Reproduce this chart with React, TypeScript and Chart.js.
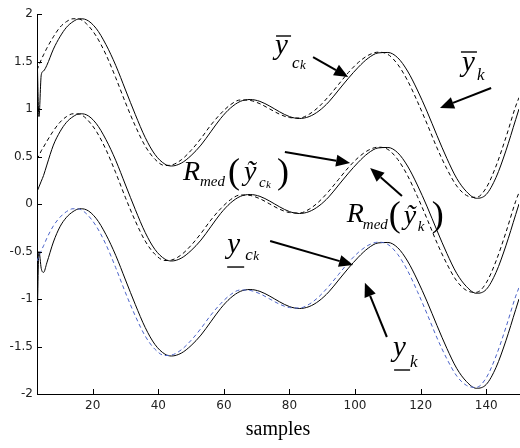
import React, { useEffect, useRef } from 'react';
import { Chart, registerables } from 'chart.js';

Chart.register(...registerables);

// sample positions (x axis: samples)
const xs = [3, 3.6, 4.3, 5, 6, 8, 10, 12, 14, 16, 18, 21, 24, 27, 30, 33, 36, 39, 42, 44, 47, 50, 53, 56, 59, 62, 65, 68, 71, 74, 77, 80, 83, 86, 89, 92, 95, 98, 101, 104, 107, 110, 113, 116, 119, 122, 125, 128, 131, 134, 137, 140, 143, 146, 149, 150];

// upper pair
const topSolid = [1.62, 0.92, 1.36, 1.40, 1.46, 1.63, 1.76, 1.86, 1.92, 1.95, 1.94, 1.85, 1.68, 1.46, 1.20, 0.94, 0.70, 0.52, 0.42, 0.40, 0.43, 0.51, 0.62, 0.76, 0.90, 1.01, 1.08, 1.10, 1.08, 1.03, 0.97, 0.92, 0.90, 0.92, 0.98, 1.075, 1.20, 1.325, 1.44, 1.535, 1.59, 1.595, 1.54, 1.40, 1.20, 0.97, 0.72, 0.48, 0.27, 0.13, 0.06, 0.10, 0.28, 0.56, 0.89, 1.00];
const topDashed = [1.41, 1.46, 1.52, 1.57, 1.64, 1.76, 1.86, 1.92, 1.95, 1.945, 1.90, 1.77, 1.575, 1.33, 1.065, 0.82, 0.61, 0.47, 0.405, 0.41, 0.465, 0.565, 0.69, 0.83, 0.95, 1.045, 1.095, 1.09, 1.055, 1.0, 0.945, 0.91, 0.905, 0.945, 1.025, 1.135, 1.26, 1.385, 1.49, 1.565, 1.598, 1.575, 1.47, 1.30, 1.08, 0.84, 0.59, 0.37, 0.19, 0.09, 0.07, 0.17, 0.40, 0.70, 1.03, 1.12];

// middle pair
const midSolid = [0.13, 0.18, 0.24, 0.30, 0.41, 0.62, 0.76, 0.86, 0.92, 0.95, 0.94, 0.85, 0.68, 0.46, 0.20, -0.06, -0.30, -0.48, -0.58, -0.60, -0.57, -0.49, -0.38, -0.24, -0.10, 0.01, 0.08, 0.10, 0.08, 0.03, -0.03, -0.08, -0.10, -0.08, -0.02, 0.075, 0.20, 0.325, 0.44, 0.535, 0.59, 0.595, 0.54, 0.40, 0.20, -0.03, -0.28, -0.52, -0.73, -0.87, -0.94, -0.90, -0.72, -0.44, -0.11, 0.0];
const midDashed = [0.47, 0.51, 0.56, 0.60, 0.66, 0.77, 0.86, 0.92, 0.95, 0.945, 0.90, 0.77, 0.575, 0.33, 0.065, -0.18, -0.39, -0.53, -0.595, -0.59, -0.535, -0.435, -0.31, -0.17, -0.05, 0.045, 0.095, 0.09, 0.055, 0.0, -0.055, -0.09, -0.095, -0.055, 0.025, 0.135, 0.26, 0.385, 0.49, 0.565, 0.598, 0.575, 0.47, 0.30, 0.08, -0.16, -0.41, -0.63, -0.81, -0.91, -0.93, -0.83, -0.60, -0.30, 0.03, 0.12];

// lower pair
const lowSolid = [-1.35, -0.50, -0.68, -0.72, -0.62, -0.40, -0.24, -0.14, -0.08, -0.05, -0.06, -0.15, -0.32, -0.54, -0.80, -1.06, -1.30, -1.48, -1.58, -1.60, -1.57, -1.49, -1.38, -1.24, -1.10, -0.99, -0.92, -0.90, -0.92, -0.97, -1.03, -1.08, -1.10, -1.08, -1.02, -0.925, -0.80, -0.675, -0.56, -0.465, -0.41, -0.405, -0.46, -0.60, -0.80, -1.03, -1.28, -1.52, -1.73, -1.87, -1.94, -1.90, -1.72, -1.44, -1.11, -1.00];
const lowDashed = [-0.60, -0.55, -0.49, -0.44, -0.36, -0.23, -0.14, -0.08, -0.05, -0.055, -0.10, -0.23, -0.425, -0.67, -0.935, -1.18, -1.39, -1.53, -1.595, -1.59, -1.535, -1.435, -1.31, -1.17, -1.05, -0.955, -0.905, -0.91, -0.945, -1.0, -1.055, -1.09, -1.095, -1.055, -0.975, -0.865, -0.74, -0.615, -0.51, -0.435, -0.402, -0.425, -0.53, -0.70, -0.92, -1.16, -1.41, -1.63, -1.81, -1.91, -1.93, -1.83, -1.60, -1.30, -0.97, -0.88];

const xTicks = [20, 40, 60, 80, 100, 120, 140];
const yTicks = [-2, -1.5, -1, -0.5, 0, 0.5, 1, 1.5, 2];
const xTitle = 'samples';

// annotation anchors in data units [x, y]
const labelAnchors = {
  yBarCk: [75.6, 1.579],
  yBarK: [132.6, 1.40],
  rmedCk: [47.5, 0.253],
  rmedK: [97.5, -0.189],
  yUnderCk: [61.0, -0.516],
  yUnderK: [111.6, -1.60],
};
// arrows: [fromX, fromY, toX, toY] in data units
const arrows = [
  [87.2, 1.547, 97.9, 1.337],
  [141.5, 1.221, 125.9, 1.011],
  [78.6, 0.547, 98.5, 0.432],
  [114.3, 0.084, 104.6, 0.379],
  [74.1, -0.389, 99.4, -0.642],
  [109.7, -1.40, 103.0, -0.83],
];

const SERIF = '"Liberation Serif", "Times New Roman", serif';

function put(ctx: CanvasRenderingContext2D, s: string, x: number, y: number, size: number, style = 'italic') {
  ctx.font = `${style} ${size}px ${SERIF}`;
  ctx.fillText(s, x, y);
}
function hline(ctx: CanvasRenderingContext2D, x1: number, x2: number, y: number) {
  ctx.lineWidth = 1.4;
  ctx.beginPath();
  ctx.moveTo(x1, y);
  ctx.lineTo(x2, y);
  ctx.stroke();
}
function drawArrow(ctx: CanvasRenderingContext2D, x1: number, y1: number, x2: number, y2: number) {
  const ang = Math.atan2(y2 - y1, x2 - x1);
  const hl = 14, hw = 6;
  const bx = x2 - hl * Math.cos(ang), by = y2 - hl * Math.sin(ang);
  ctx.lineWidth = 2;
  ctx.beginPath();
  ctx.moveTo(x1, y1);
  ctx.lineTo(bx, by);
  ctx.stroke();
  ctx.beginPath();
  ctx.moveTo(x2, y2);
  ctx.lineTo(bx + hw * Math.sin(ang), by - hw * Math.cos(ang));
  ctx.lineTo(bx - hw * Math.sin(ang), by + hw * Math.cos(ang));
  ctx.closePath();
  ctx.fill();
}

const overlayPlugin = {
  id: 'overlay',
  afterDraw(chart: any) {
    const { ctx, chartArea } = chart;
    const xs_ = chart.scales.x, ys_ = chart.scales.y;
    const P = (a: number[]) => [xs_.getPixelForValue(a[0]), ys_.getPixelForValue(a[1])];
    ctx.save();
    // inward tick marks
    ctx.strokeStyle = '#000';
    ctx.lineWidth = 1;
    ctx.beginPath();
    xTicks.forEach((v) => {
      const px = Math.round(xs_.getPixelForValue(v)) + 0.5;
      ctx.moveTo(px, chartArea.bottom);
      ctx.lineTo(px, chartArea.bottom - 5);
    });
    yTicks.forEach((v) => {
      const py = Math.round(ys_.getPixelForValue(v)) + 0.5;
      ctx.moveTo(chartArea.left, py);
      ctx.lineTo(chartArea.left + 5, py);
    });
    ctx.stroke();

    ctx.fillStyle = '#000';
    ctx.strokeStyle = '#000';
    arrows.forEach((a) => {
      const [x1, y1] = P([a[0], a[1]]);
      const [x2, y2] = P([a[2], a[3]]);
      drawArrow(ctx, x1, y1, x2, y2);
    });

    ctx.textAlign = 'left';
    ctx.textBaseline = 'alphabetic';
    // ȳ_{c_k}
    let [ax, ay] = P(labelAnchors.yBarCk);
    put(ctx, 'y', ax, ay, 29);
    hline(ctx, ax + 1, ax + 16, ay - 18);
    put(ctx, 'c', ax + 17, ay + 14, 17);
    put(ctx, 'k', ax + 25, ay + 15, 13);
    // ȳ_k
    [ax, ay] = P(labelAnchors.yBarK);
    put(ctx, 'y', ax, ay, 29);
    hline(ctx, ax - 1, ax + 15, ay - 19);
    put(ctx, 'k', ax + 15, ay + 9, 17);
    // R_med(ỹ_{c_k})
    [ax, ay] = P(labelAnchors.rmedCk);
    put(ctx, 'R', ax, ay, 28);
    put(ctx, 'med', ax + 17, ay + 6, 15);
    put(ctx, '(', ax + 45, ay + 3, 36, 'normal');
    put(ctx, 'ỹ', ax + 61, ay, 28);
    put(ctx, 'c', ax + 76, ay + 7, 15);
    put(ctx, 'k', ax + 83, ay + 8, 11);
    put(ctx, ')', ax + 94, ay + 3, 36, 'normal');
    // R_med(ỹ_k)
    [ax, ay] = P(labelAnchors.rmedK);
    put(ctx, 'R', ax, ay, 28);
    put(ctx, 'med', ax + 16, ay + 7, 15);
    put(ctx, '(', ax + 42, ay + 4, 36, 'normal');
    put(ctx, 'ỹ', ax + 57, ay + 2, 28);
    put(ctx, 'k', ax + 71, ay + 9, 15);
    put(ctx, ')', ax + 85, ay + 4, 36, 'normal');
    // y_{c_k} underlined
    [ax, ay] = P(labelAnchors.yUnderCk);
    put(ctx, 'y', ax, ay, 29);
    hline(ctx, ax, ax + 17, ay + 14);
    put(ctx, 'c', ax + 18, ay + 7, 17);
    put(ctx, 'k', ax + 26, ay + 7, 13);
    // y_k underlined
    [ax, ay] = P(labelAnchors.yUnderK);
    put(ctx, 'y', ax, ay, 29);
    hline(ctx, ax + 1, ax + 17, ay + 14);
    put(ctx, 'k', ax + 17, ay + 11, 17);
    ctx.restore();
  },
};

function series(ys: number[], color: string, dash: number[]) {
  return {
    data: xs.map((xv, i) => ({ x: xv, y: ys[i] })),
    borderColor: color,
    borderWidth: 1,
    borderDash: dash,
    pointRadius: 0,
    fill: false,
    cubicInterpolationMode: 'monotone' as const,
  };
}

export default function App() {
  const ref = useRef<HTMLCanvasElement | null>(null);
  useEffect(() => {
    if (!ref.current) return;
    const chart = new Chart(ref.current, {
      type: 'line',
      data: {
        datasets: [
          series(topDashed, '#000', [4, 3]),
          series(midDashed, '#000', [4, 3]),
          series(lowDashed, '#4b63c8', [4, 3]),
          series(topSolid, '#000', []),
          series(midSolid, '#000', []),
          series(lowSolid, '#000', []),
        ] as any,
      },
      options: {
        animation: false,
        responsive: false,
        devicePixelRatio: 1,
        layout: { padding: { top: 14, right: 1, left: 0, bottom: 0 } },
        plugins: { legend: { display: false }, tooltip: { enabled: false } },
        scales: {
          x: {
            type: 'linear',
            min: 3,
            max: 150,
            afterBuildTicks: (s: any) => { s.ticks = xTicks.map((v) => ({ value: v })); },
            afterFit: (s: any) => { s.height = 54; },
            grid: { display: false, drawTicks: false },
            border: { display: true, color: '#000', width: 1 },
            ticks: {
              font: { family: '"DejaVu Sans", sans-serif', size: 12 },
              color: '#222',
              padding: 5,
              maxRotation: 0,
              autoSkip: false,
              callback: (v: any) => String(v),
            },
            title: {
              display: true,
              text: xTitle,
              color: '#000',
              font: { family: SERIF, size: 20 },
              padding: { top: 0, bottom: 6 },
            },
          },
          y: {
            type: 'linear',
            min: -2,
            max: 2,
            afterBuildTicks: (s: any) => { s.ticks = yTicks.map((v) => ({ value: v })); },
            afterFit: (s: any) => { s.width = 37; },
            grid: { display: false, drawTicks: false },
            border: { display: true, color: '#000', width: 1 },
            ticks: {
              font: { family: '"DejaVu Sans", sans-serif', size: 12 },
              color: '#222',
              padding: 4,
              autoSkip: false,
              callback: (v: any) => String(v),
            },
          },
        },
      } as any,
      plugins: [overlayPlugin],
    });
    return () => chart.destroy();
  }, []);
  return (
    <div style={{ position: 'absolute', left: 0, top: 0, width: 520, height: 448, background: '#fff' }}>
      <canvas ref={ref} width={520} height={448} style={{ display: 'block' }} />
    </div>
  );
}
